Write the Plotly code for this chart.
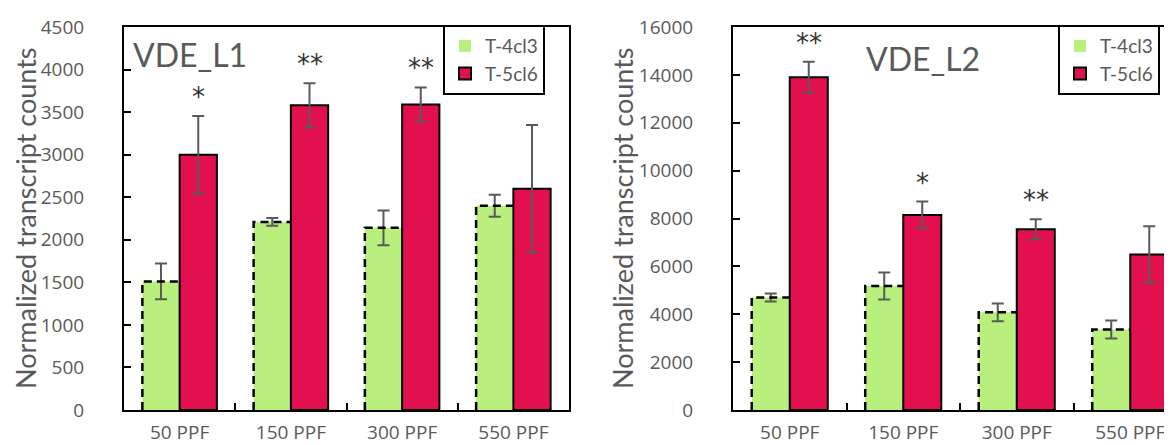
import plotly.graph_objects as go

# ---------------- data ----------------
categories = ["50 PPF", "150 PPF", "300 PPF", "550 PPF"]
series_names = ["T-4cl3", "T-5cl6"]

l1_t4 = [1510, 2210, 2140, 2400]
l1_t4_err = [210, 45, 205, 130]
l1_t5 = [3000, 3580, 3590, 2600]
l1_t5_err = [455, 260, 200, 750]
l1_sig = ["*", "**", "**", ""]

l2_t4 = [4700, 5180, 4080, 3360]
l2_t4_err = [170, 560, 370, 375]
l2_t5 = [13900, 8150, 7550, 6500]
l2_t5_err = [650, 557, 420, 1180]
l2_sig = ["**", "*", "**", ""]

y1_ticks = [0, 500, 1000, 1500, 2000, 2500, 3000, 3500, 4000, 4500]
y2_ticks = [0, 2000, 4000, 6000, 8000, 10000, 12000, 14000, 16000]
panel_titles = ["VDE_L1", "VDE_L2"]
y_title = "Normalized transcript counts"

# ---------------- style ----------------
W, H = 1172, 445
GREEN = "#b9ef7c"
RED = "#e2104f"
GRAY = "#595959"
ERR = "#5a5a5a"
FONT = "Lato"
TICKFONT = "Open Sans"
BARGAP = 0.33
half = (1 - BARGAP) / 2

xpos = list(range(len(categories)))

fig = go.Figure()


def add_panel(t4, t4e, t5, t5e, sig, xa, ya, leg):
    fig.add_trace(go.Bar(
        x=xpos, y=t4, name=series_names[0], xaxis=xa, yaxis=ya,
        marker=dict(color=GREEN, line=dict(width=0)),
        error_y=dict(type="data", array=t4e, color=ERR, thickness=2, width=6),
        legend=leg, legendgroup=leg + "a",
    ))
    fig.add_trace(go.Bar(
        x=xpos, y=t5, name=series_names[1], xaxis=xa, yaxis=ya,
        marker=dict(color=RED, line=dict(width=2, color="black")),
        error_y=dict(type="data", array=t5e, color=ERR, thickness=2, width=6),
        legend=leg, legendgroup=leg + "b",
    ))
    # dashed outline (left + top) of the green bars
    ox, oy = [], []
    for i, v in zip(xpos, t4):
        ox += [i - half, i - half, i, None]
        oy += [0, v, v, None]
    fig.add_trace(go.Scatter(
        x=ox, y=oy, mode="lines", xaxis=xa, yaxis=ya, showlegend=False,
        line=dict(color="black", width=2.5, dash="8px,5px"), hoverinfo="skip",
    ))
    ref_x = "x" if xa == "x" else "x2"
    ref_y = "y" if ya == "y" else "y2"
    for i, v, e, s in zip(xpos, t5, t5e, sig):
        if s:
            fig.add_annotation(
                x=i + half / 2, y=v + e, xref=ref_x, yref=ref_y, text=s,
                showarrow=False, yanchor="bottom", yshift=2,
                font=dict(family="DejaVu Sans", size=26, color="#333333"),
            )


add_panel(l1_t4, l1_t4_err, l1_t5, l1_t5_err, l1_sig, "x", "y", "legend")
add_panel(l2_t4, l2_t4_err, l2_t5, l2_t5_err, l2_sig, "x2", "y2", "legend2")

tickfont = dict(family=TICKFONT, size=19, color=GRAY)


def xaxis_cfg(domain, rng):
    return dict(
        domain=domain, range=rng, tickmode="array", tickvals=xpos,
        ticktext=categories, ticks="", showline=True, linecolor="black",
        linewidth=2, mirror=True, showgrid=False, zeroline=False,
        tickfont=tickfont, ticklabelstandoff=4, automargin=False,
        minor=dict(tickmode="array", tickvals=[0.5, 1.5, 2.5], ticks="inside",
                   ticklen=7, tickwidth=2, tickcolor="black", showgrid=False),
    )


def yaxis_cfg(anchor, rng, tv, mirror):
    return dict(
        anchor=anchor, domain=[43 / H, 426 / H], range=rng, tickmode="array",
        tickvals=tv, ticktext=[str(t) for t in tv], ticks="inside",
        ticklen=7, tickwidth=2,
        tickcolor="black", showline=True, linecolor="black", linewidth=2,
        mirror=mirror, showgrid=False, zeroline=False, tickfont=tickfont,
        ticklabelstandoff=34, automargin=False,
    )


legend_common = dict(
    bordercolor="black", borderwidth=2, bgcolor="white",
    font=dict(family=FONT, size=19, color=GRAY),
    xanchor="left", yanchor="top", tracegroupgap=3, traceorder="normal",
    itemwidth=30,
)

fig.update_layout(
    width=W, height=H,
    margin=dict(l=0, r=0, t=0, b=0),
    paper_bgcolor="white", plot_bgcolor="white",
    barmode="group", bargap=BARGAP, bargroupgap=0,
    xaxis=dict(anchor="y", **xaxis_cfg([116 / W, 561 / W], [-0.5, 3.5])),
    yaxis=yaxis_cfg("x", [0, 4500], y1_ticks, True),
    xaxis2=dict(anchor="y2", **xaxis_cfg([725 / W, 1.0], [-0.5, -0.5 + (W - 725) / 113.5])),
    yaxis2=yaxis_cfg("x2", [0, 16000], y2_ticks, False),
    legend=dict(x=435 / W, y=(H - 17) / H, **legend_common),
    legend2=dict(x=1050 / W, y=(H - 17) / H, **legend_common),
    showlegend=True,
)

fig.add_annotation(x=123 / W, y=(H - 47) / H, xref="paper", yref="paper",
                   text=panel_titles[0], showarrow=False, xanchor="left",
                   yanchor="middle", font=dict(family=FONT, size=32, color=GRAY))
fig.add_annotation(x=856 / W, y=(H - 50) / H, xref="paper", yref="paper",
                   text=panel_titles[1], showarrow=False, xanchor="left",
                   yanchor="middle", font=dict(family=FONT, size=32, color=GRAY))
for xc in (17, 614):
    fig.add_annotation(x=xc / W, y=(H - 210) / H, xref="paper", yref="paper",
                       text=y_title, showarrow=False, textangle=-90,
                       xanchor="center", yanchor="middle",
                       font=dict(family=FONT, size=27, color=GRAY))

fig.write_html("out.html")
